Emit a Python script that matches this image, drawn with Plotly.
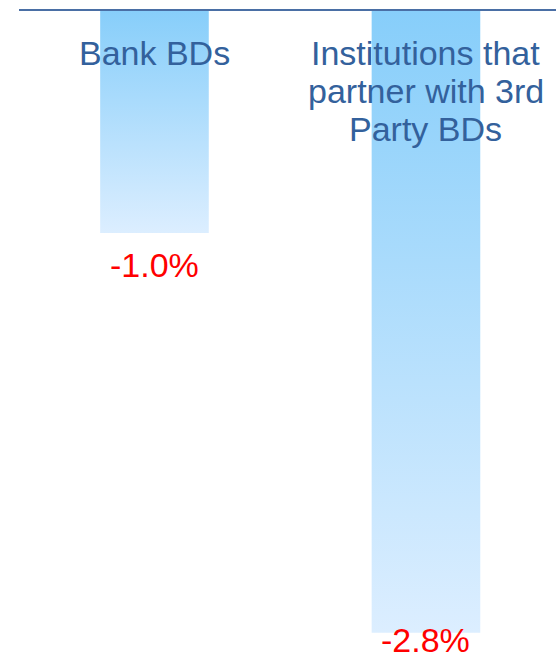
import plotly.graph_objects as go

categories = ["Bank BDs", "Institutions that<br>partner with 3rd<br>Party BDs"]
values = [-1.0, -2.8]
value_labels = ["-1.0%", "-2.8%"]

FONT = "Liberation Sans, Arial, sans-serif"
CAT_COLOR = "#33619C"
TOP_COLOR = "#87CEFA"
BOTTOM_COLOR = "#DCEEFF"
HALF_W = 0.2

fig = go.Figure()
for i, v in enumerate(values):
    xs = [i - HALF_W, i + HALF_W, i + HALF_W, i - HALF_W, i - HALF_W]
    ys = [0, 0, v, v, 0]
    fig.add_trace(go.Scatter(
        x=xs, y=ys, mode="lines", fill="toself", line=dict(width=0),
        fillgradient=dict(type="vertical",
                          colorscale=[[0, BOTTOM_COLOR], [1, TOP_COLOR]]),
        hoverinfo="skip", showlegend=False))

# category labels, one annotation per line to get tight line spacing
for i, cat in enumerate(categories):
    for j, line in enumerate(cat.split("<br>")):
        fig.add_annotation(x=i, y=0, xref="x", yref="y", text=line,
                           showarrow=False, yanchor="middle",
                           yshift=-42 - 38 * j,
                           font=dict(family=FONT, size=34, color=CAT_COLOR))

label_shift = [-32, -7.5]
for i, (v, t) in enumerate(zip(values, value_labels)):
    fig.add_annotation(x=i, y=v, xref="x", yref="y", text=t, showarrow=False,
                       yanchor="middle", yshift=label_shift[i],
                       font=dict(family=FONT, size=34, color="#FF0000"))

fig.update_layout(
    width=556, height=656,
    margin=dict(l=19, r=0, t=11, b=0),
    paper_bgcolor="white", plot_bgcolor="white",
    xaxis=dict(range=[-0.499, 1.479], side="top", showline=True,
               linecolor="#4A6FA5", linewidth=1.5, showgrid=False,
               zeroline=False, showticklabels=False, ticks=""),
    yaxis=dict(range=[-2.905, 0], showgrid=False, zeroline=False,
               showticklabels=False, showline=False, ticks=""),
)
fig.write_html("out.html", config={"displayModeBar": False},
               post_script="document.body.style.margin='0';document.body.style.overflow='hidden';")
